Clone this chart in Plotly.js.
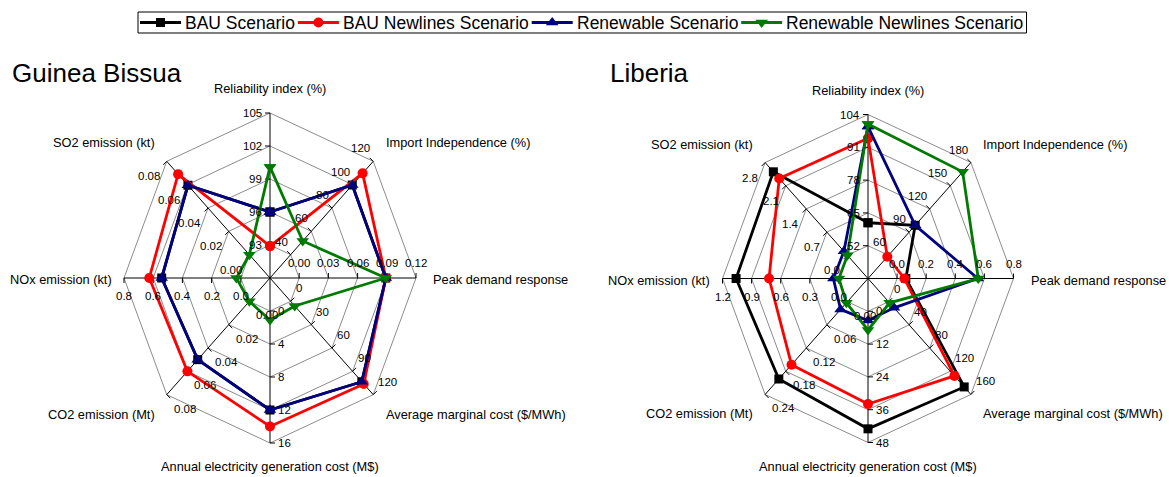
<!DOCTYPE html>
<html><head><meta charset="utf-8">
<script src="https://cdn.plot.ly/plotly-3.0.1.min.js"></script>
<style>html,body{margin:0;padding:0;background:#fff}#chart{width:1169px;height:477px}</style>
</head><body><div id="chart"></div>
<script>
// ---------- data ----------
const axisNames = ['Reliability index (%)', 'Import Independence (%)', 'Peak demand response',
  'Average marginal cost ($/MWh)', 'Annual electricity generation cost (M$)', 'CO2 emission (Mt)',
  'NOx emission (kt)', 'SO2 emission (kt)'];
const seriesNames = ['BAU Scenario', 'BAU Newlines Scenario', 'Renewable Scenario', 'Renewable Newlines Scenario'];

// Guinea Bissua: per-axis scale (centre value, outer value) and ring tick labels
const gbScaleMin = [90, 20, -0.03, -30, -4, -0.02, -0.2, -0.02];
const gbScaleMax = [105, 120, 0.12, 120, 16, 0.08, 0.8, 0.08];
const gbTickLabels = [
  ['93', '96', '99', '102', '105'],
  ['40', '60', '80', '100', '120'],
  ['0.00', '0.03', '0.06', '0.09', '0.12'],
  ['0', '30', '60', '90', '120'],
  ['0', '4', '8', '12', '16'],
  ['0.00', '0.02', '0.04', '0.06', '0.08'],
  ['0.0', '0.2', '0.4', '0.6', '0.8'],
  ['0.00', '0.02', '0.04', '0.06', '0.08']
];
const gbBAU        = [96.0, 99.7, 0.089, 103.4, 12.0, 0.050, 0.542, 0.0595];
const gbBAUNew     = [92.9, 109.7, 0.089, 106.2, 14.0, 0.060, 0.627, 0.069];
const gbRenewable  = [96.0, 99.7, 0.089, 103.4, 12.0, 0.050, 0.542, 0.0595];
const gbRenewNew   = [100.1, 51.7, 0.089, 6.0, 1.1, 0.000, 0.030, 0.000];

// Liberia
const lbScaleMin = [39, 30, -0.2, -40, -12, -0.06, -0.3, -0.7];
const lbScaleMax = [104, 180, 0.8, 160, 48, 0.24, 1.2, 2.8];
const lbTickLabels = [
  ['52', '65', '78', '91', '104'],
  ['60', '90', '120', '150', '180'],
  ['0.0', '0.2', '0.4', '0.6', '0.8'],
  ['0', '40', '80', '120', '160'],
  ['0', '12', '24', '36', '48'],
  ['0.00', '0.06', '0.12', '0.18', '0.24'],
  ['0.0', '0.3', '0.6', '0.9', '1.2'],
  ['0.0', '0.7', '1.4', '2.1', '2.8']
];
const lbBAU        = [61.1, 98.8, 0.06, 147, 43.0, 0.200, 1.06, 2.52];
const lbBAUNew     = [94.6, 58.2, 0.05, 128, 33.9, 0.163, 0.72, 2.32];
const lbRenewable  = [99.2, 98.8, 0.555, 10.6, 3.4, 0.020, 0.057, 0.12];
const lbRenewNew   = [100.2, 168, 0.558, 2.0, 6.8, 0.003, 0.000, 0.00];

// ---------- styling / geometry ----------
const W = 1169, H = 477;
const REG = '"Liberation Sans", Arial, sans-serif';
const styles = [
  {color: '#000000', symbol: 'square', size: 9},
  {color: '#ff0000', symbol: 'circle', size: 10},
  {color: '#000080', symbol: 'triangle-up', size: 11},
  {color: '#007a00', symbol: 'triangle-down', size: 11}
];
const angles = [90, 45, 0, -45, -90, -135, 180, 135].map(d => d * Math.PI / 180);
const charts = [
  {title: 'Guinea Bissua', titleX: 10, xa: 'x', ya: 'y', cx: 270, cy: 278, rx: 146, ry: 165,
   min: gbScaleMin, max: gbScaleMax, ticks: gbTickLabels, series: [gbBAU, gbBAUNew, gbRenewable, gbRenewNew]},
  {title: 'Liberia', titleX: 608, xa: 'x2', ya: 'y2', cx: 868, cy: 278.5, rx: 145.5, ry: 164,
   min: lbScaleMin, max: lbScaleMax, ticks: lbTickLabels, series: [lbBAU, lbBAUNew, lbRenewable, lbRenewNew]}
];
const labelPos = [
  {x: 0, y: 1.148, xanchor: 'center'},
  {x: 0.78, y: 0.82, xanchor: 'left'},
  {x: 1.105, y: -0.01, xanchor: 'left'},
  {x: 0.78, y: -0.825, xanchor: 'left'},
  {x: 0, y: -1.145, xanchor: 'center'},
  {x: -0.775, y: -0.825, xanchor: 'right'},
  {x: -1.07, y: -0.01, xanchor: 'right'},
  {x: -0.775, y: 0.82, xanchor: 'right'}
];
const tickPlace = [
  {xanchor: 'right', yanchor: 'middle', xshift: -7, yshift: 0},
  {xanchor: 'right', yanchor: 'bottom', xshift: -2, yshift: 6},
  {xanchor: 'center', yanchor: 'bottom', xshift: 0, yshift: 8},
  {xanchor: 'left', yanchor: 'bottom', xshift: 4, yshift: 6},
  {xanchor: 'left', yanchor: 'middle', xshift: 7, yshift: 0},
  {xanchor: 'left', yanchor: 'top', xshift: 6, yshift: -7},
  {xanchor: 'center', yanchor: 'top', xshift: 0, yshift: -11},
  {xanchor: 'right', yanchor: 'top', xshift: -6, yshift: -8}
];

const traces = [];
const annotations = [];
const shapes = [];
const layout = {
  width: W, height: H, margin: {l: 0, r: 0, t: 0, b: 0},
  paper_bgcolor: '#ffffff', plot_bgcolor: 'rgba(0,0,0,0)', showlegend: false,
  annotations: annotations, shapes: shapes,
  xaxis3: {domain: [0, 1], range: [0, W], visible: false, fixedrange: true, anchor: 'y3'},
  yaxis3: {domain: [0, 1], range: [H, 0], visible: false, fixedrange: true, anchor: 'x3'}
};

charts.forEach((c, ci) => {
  const xKey = ci === 0 ? 'xaxis' : 'xaxis2';
  const yKey = ci === 0 ? 'yaxis' : 'yaxis2';
  const halfW = 270;
  layout[xKey] = {domain: [(c.cx - halfW) / W, (c.cx + halfW) / W], range: [-halfW / c.rx, halfW / c.rx],
    visible: false, fixedrange: true};
  layout[yKey] = {domain: [0, 1], range: [-(H - c.cy) / c.ry, c.cy / c.ry], visible: false, fixedrange: true};
  if (ci === 1) { layout[xKey].anchor = 'y2'; layout[yKey].anchor = 'x2'; }

  // rings
  const rx = [], ry = [];
  for (let k = 1; k <= 5; k++) {
    const f = k / 5;
    for (let i = 0; i <= 8; i++) { const a = angles[i % 8]; rx.push(f * Math.cos(a)); ry.push(f * Math.sin(a)); }
    rx.push(null); ry.push(null);
  }
  traces.push({x: rx, y: ry, xaxis: c.xa, yaxis: c.ya, mode: 'lines', line: {color: '#8c8c8c', width: 1},
    hoverinfo: 'skip', cliponaxis: false});
  // spokes
  const sx = [], sy = [];
  angles.forEach(a => { sx.push(0, Math.cos(a), null); sy.push(0, Math.sin(a), null); });
  traces.push({x: sx, y: sy, xaxis: c.xa, yaxis: c.ya, mode: 'lines', line: {color: '#000', width: 1},
    hoverinfo: 'skip', cliponaxis: false});
  // tick marks (perpendicular, on label side)
  const tx = [], ty = [];
  const L = 5;
  angles.forEach((a) => {
    const px = -Math.sin(a), py = Math.cos(a);
    for (let k = 1; k <= 5; k++) {
      const f = k / 5, x0 = f * Math.cos(a), y0 = f * Math.sin(a);
      tx.push(x0, x0 + L * px / c.rx, null); ty.push(y0, y0 + L * py / c.ry, null);
    }
  });
  traces.push({x: tx, y: ty, xaxis: c.xa, yaxis: c.ya, mode: 'lines', line: {color: '#000', width: 1},
    hoverinfo: 'skip', cliponaxis: false});

  // tick labels
  angles.forEach((a, i) => {
    for (let k = 1; k <= 5; k++) {
      const f = k / 5, p = tickPlace[i];
      annotations.push({xref: c.xa, yref: c.ya, x: f * Math.cos(a), y: f * Math.sin(a), text: c.ticks[i][k - 1],
        showarrow: false, xanchor: p.xanchor, yanchor: p.yanchor, xshift: p.xshift, yshift: p.yshift,
        font: {family: REG, size: 11.5, color: '#000'}, borderpad: 0});
    }
  });
  // axis names
  axisNames.forEach((n, i) => {
    const p = labelPos[i];
    annotations.push({xref: c.xa, yref: c.ya, x: p.x, y: p.y, text: n, showarrow: false,
      xanchor: p.xanchor, yanchor: 'middle', font: {family: REG, size: 12.8, color: '#000'}});
  });
  // chart title
  annotations.push({xref: 'paper', yref: 'paper', x: c.titleX / W, y: 1 - 73 / H, text: c.title, showarrow: false,
    xanchor: 'left', yanchor: 'middle', font: {family: REG, size: 26, color: '#000'}});

  // data series
  c.series.forEach((vals, si) => {
    const xs = [], ys = [];
    for (let i = 0; i <= 8; i++) {
      const j = i % 8, f = (vals[j] - c.min[j]) / (c.max[j] - c.min[j]);
      xs.push(f * Math.cos(angles[j])); ys.push(f * Math.sin(angles[j]));
    }
    const s = styles[si];
    traces.push({x: xs, y: ys, xaxis: c.xa, yaxis: c.ya, mode: 'lines+markers', name: seriesNames[si],
      line: {color: s.color, width: 2.8}, marker: {symbol: s.symbol, size: s.size, color: s.color,
      line: {color: s.color, width: 0}}, cliponaxis: false, hoverinfo: 'skip'});
  });
});

// ---------- legend (drawn in a pixel-unit overlay axis) ----------
const legendFontSize = 17.5;
const ctx = document.createElement('canvas').getContext('2d');
ctx.font = legendFontSize + 'px "Liberation Sans", Arial, sans-serif';
const legLeft = 138, legTop = 12, legBottom = 33, legMid = (legTop + legBottom) / 2;
let lx = legLeft + 2;
seriesNames.forEach((n, si) => {
  const s = styles[si];
  traces.push({x: [lx, lx + 41], y: [legMid, legMid], xaxis: 'x3', yaxis: 'y3', mode: 'lines',
    line: {color: s.color, width: 2.8}, hoverinfo: 'skip', cliponaxis: false});
  traces.push({x: [lx + 20.5], y: [legMid], xaxis: 'x3', yaxis: 'y3', mode: 'markers',
    marker: {symbol: s.symbol, size: s.size, color: s.color}, hoverinfo: 'skip', cliponaxis: false});
  annotations.push({xref: 'x3', yref: 'y3', x: lx + 44, y: legMid + 0.5, text: n, showarrow: false,
    xanchor: 'left', yanchor: 'middle', borderpad: 0, font: {family: REG, size: legendFontSize, color: '#000'}});
  lx += 44 + ctx.measureText(n).width + 4;
});
shapes.push({type: 'rect', xref: 'x3', yref: 'y3', x0: legLeft, x1: lx, y0: legTop, y1: legBottom,
  line: {color: '#000', width: 1}, fillcolor: 'rgba(0,0,0,0)', layer: 'below'});

Plotly.newPlot('chart', traces, layout, {staticPlot: true, displayModeBar: false});
</script></body></html>
